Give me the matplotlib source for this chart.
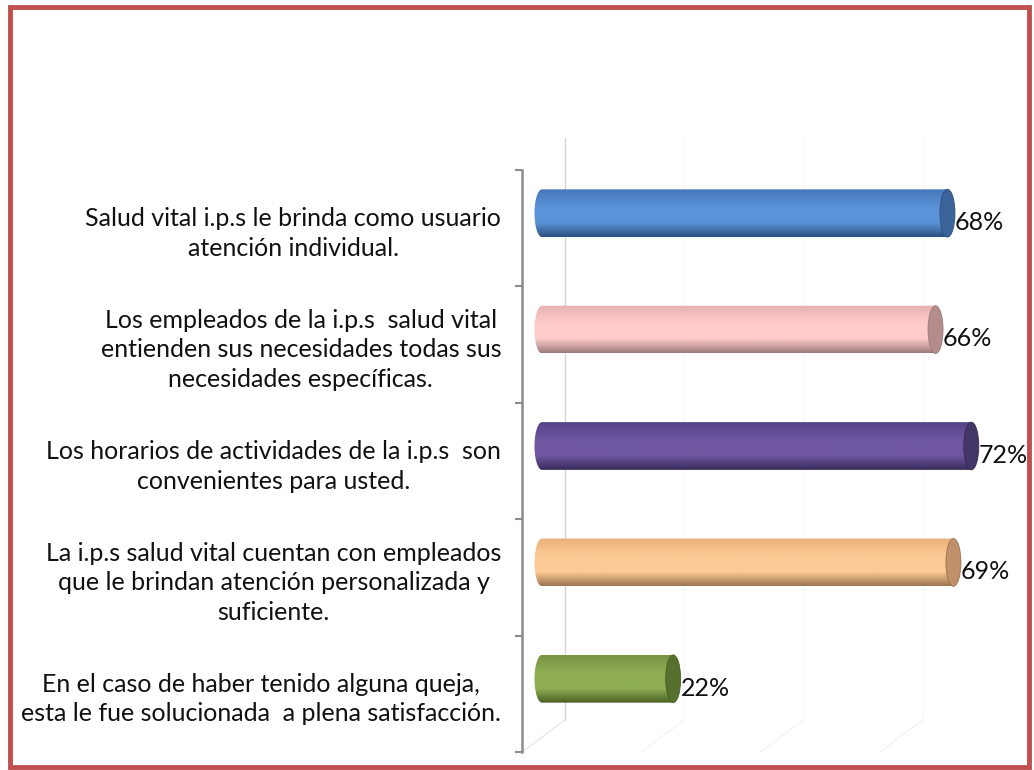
import numpy as np
import matplotlib
matplotlib.use('Agg')
import matplotlib.pyplot as plt
import matplotlib.transforms as mtransforms
from matplotlib.colors import LinearSegmentedColormap
from matplotlib.patches import Ellipse, PathPatch, Rectangle
from matplotlib.path import Path
from matplotlib.lines import Line2D

plt.rcParams['font.family'] = ['Lato', 'DejaVu Sans']

# ── Data (top to bottom) ──────────────────────────────────────────────────────
LABELS = [
    "Salud vital i.p.s le brinda como usuario\natención individual.",
    "Los empleados de la i.p.s  salud vital\nentienden sus necesidades todas sus\nnecesidades específicas.",
    "Los horarios de actividades de la i.p.s  son\nconvenientes para usted.",
    "La i.p.s salud vital cuentan con empleados\nque le brindan atención personalizada y\nsuficiente.",
    "En el caso de haber tenido alguna queja,\nesta le fue solucionada  a plena satisfacción.",
]
VALUES = [68, 66, 72, 69, 22]

# (bottom shade, light band, top shade, end cap)
SHADES = [
    ("#2c4f80", "#5b93d8", "#4677b8", "#3b6398"),
    ("#9c7a7a", "#ffcccc", "#e6b0b0", "#b48c8c"),
    ("#372a58", "#6e57a0", "#56438a", "#443666"),
    ("#9c744e", "#fdca96", "#ecae7a", "#c0906a"),
    ("#4a6026", "#8fad52", "#789444", "#56702e"),
]

XMAX = 80
DPI = 100
FS = 18
DX, DY = 20, 15        # bar depth offset (px)
BX, BY = 43, 32        # back wall offset (px)
RX = 7.5 / 5.96        # cap half-width in % units
RY = 0.205             # cap half-height in category units

fig = plt.figure(figsize=(10.34, 7.70), dpi=DPI)
fig.patches.append(Rectangle((10 / 1034, 3 / 770), 1019 / 1034, 760 / 770,
                             transform=fig.transFigure, fill=False,
                             edgecolor="#c0504d", linewidth=3.5))

ax = fig.add_axes([522 / 1034, 18 / 770, 477 / 1034, 582 / 770])
ax.set_xlim(0, XMAX)
ax.set_ylim(0, 5)
for s in ["top", "right", "bottom"]:
    ax.spines[s].set_visible(False)
ax.spines["left"].set_color("#8c8c8c")
ax.spines["left"].set_linewidth(1.8)
ax.set_xticks([])
ax.set_yticks(range(6))
ax.set_yticklabels([])
ax.tick_params(axis="y", which="major", direction="out", length=5,
               width=1.5, color="#8c8c8c")
ax.set_yticks([4.5 - i for i in range(5)], minor=True)
ax.set_yticklabels(LABELS, minor=True, multialignment="center",
                   fontsize=FS, color="#111111", linespacing=1.35)
ax.tick_params(axis="y", which="minor", length=0, pad=15)

back = mtransforms.offset_copy(ax.transData, fig, x=BX, y=BY, units="dots")
mid = mtransforms.offset_copy(ax.transData, fig, x=DX, y=DY, units="dots")

# 3D frame: back wall, top edge, floor and faint gridlines
ax.add_line(Line2D([0, 0], [0, 5], transform=back, color="#d4d4d4", lw=1.0,
                   clip_on=False, zorder=0.5))
for g in [20, 40, 60]:
    ax.add_line(Line2D([g, g], [0, 5], transform=back, color="#f7f7f7", lw=0.8,
                       clip_on=False, zorder=0.5))
ax.add_line(Line2D([522 / 1034, 565 / 1034], [600 / 770, 632 / 770],
                   transform=fig.transFigure, color="#8c8c8c", lw=1.8))
for g in [0, 20, 40, 60, 80]:
    ax.add_line(Line2D([(522 + g * 5.96) / 1034, (565 + g * 5.96) / 1034],
                       [18 / 770, 50 / 770], transform=fig.transFigure,
                       color="#f2f2f2" if g else "#e2e2e2", lw=0.8, zorder=0.5))

# cylinders
for i, (v, sh) in enumerate(zip(VALUES, SHADES)):
    yc = 4.5 - i
    cmap = LinearSegmentedColormap.from_list(
        f"c{i}", [(0, sh[0]), (0.3, sh[1]), (0.62, sh[1]), (1, sh[2])])
    t = np.linspace(np.pi / 2, 3 * np.pi / 2, 40)
    verts = list(zip(RX * np.cos(t), yc + RY * np.sin(t)))
    verts += [(v, yc - RY), (v, yc + RY), verts[0]]
    codes = [Path.MOVETO] + [Path.LINETO] * (len(verts) - 2) + [Path.CLOSEPOLY]
    clip = PathPatch(Path(verts, codes), transform=mid, facecolor="none", edgecolor="none")
    ax.add_patch(clip)
    grad = np.linspace(0, 1, 256).reshape(-1, 1)
    im = ax.imshow(grad, cmap=cmap, origin="lower", aspect="auto",
                   extent=[-RX, v, yc - RY, yc + RY], interpolation="bilinear",
                   zorder=3)
    im.set_transform(mid)
    im.set_clip_path(clip)
    im.set_clip_on(True)
    cap = Ellipse((v, yc), 2 * RX, 2 * RY, transform=mid, facecolor=sh[3],
                  edgecolor=sh[0], lw=0.6, clip_on=False, zorder=4)
    ax.add_patch(cap)
    ax.text(v + RX, yc - 0.08, f"{v}%", transform=mid, fontsize=FS,
            va="center", ha="left", color="#111111", clip_on=False, zorder=5)

ax.set_xlim(0, XMAX)
ax.set_ylim(0, 5)

plt.savefig("out.png", dpi=DPI)
